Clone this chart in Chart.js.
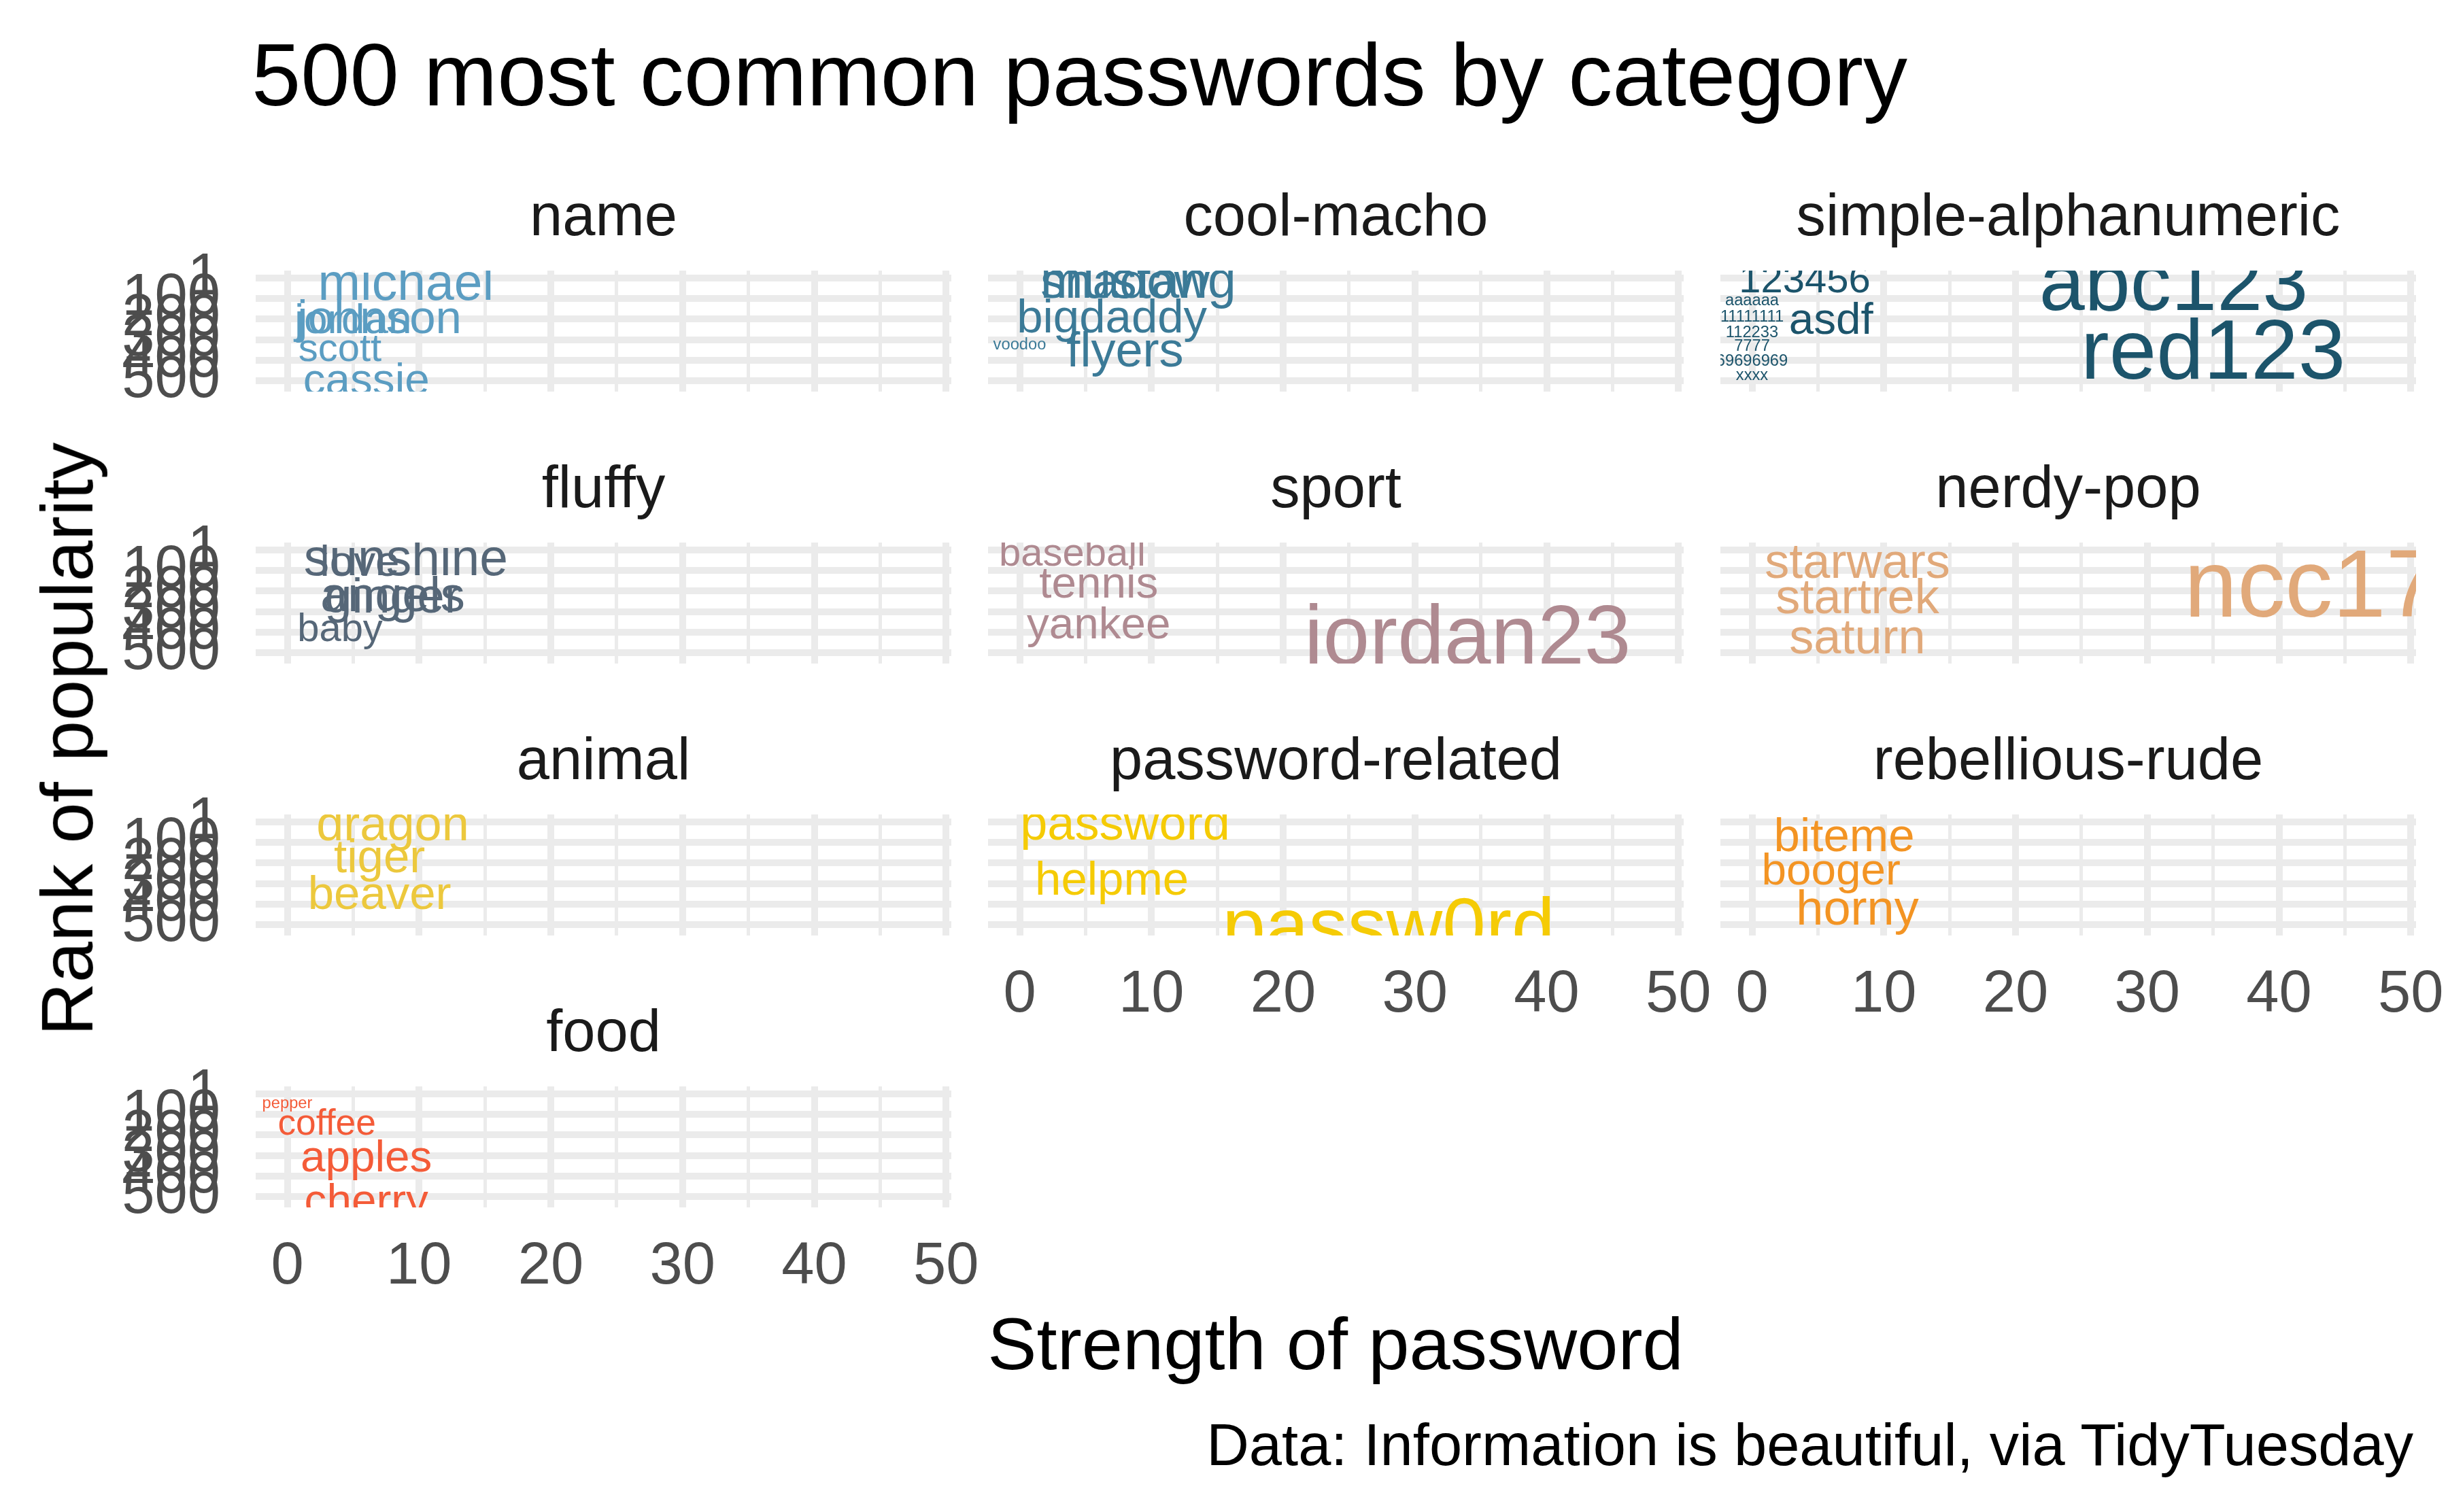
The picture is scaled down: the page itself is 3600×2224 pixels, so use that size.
<!DOCTYPE html>
<html>
<head>
<meta charset="utf-8">
<script src="https://cdn.jsdelivr.net/npm/chart.js@4.4.1/dist/chart.umd.min.js"></script>
<style>
  html, body { margin: 0; padding: 0; background: #ffffff; }
  body { width: 3600px; height: 2224px; position: relative; overflow: hidden;
         font-family: 'Liberation Sans', Arial, Helvetica, sans-serif; }
  canvas { position: absolute; }
  .txt { position: absolute; white-space: nowrap; line-height: 1; }
</style>
</head>
<body>
<script>
// ---------------- DATA ----------------
const password = [
  'michael','johnson','jordan','scott','cassie',
  'mustang','shadow','bigdaddy','flyers','voodoo',
  '123456','aaaaaa','11111111','112233','7777','69696969','xxxx','asdf','abc123','red123',
  'sunshine','love','angels','ginger','baby',
  'baseball','tennis','yankee','jordan23',
  'starwars','startrek','saturn','ncc1701',
  'dragon','tiger','beaver',
  'password','helpme','passw0rd',
  'biteme','booger','horny',
  'pepper','coffee','apples','cherry'
];
const category = [
  'name','name','name','name','name',
  'cool-macho','cool-macho','cool-macho','cool-macho','cool-macho',
  'simple-alphanumeric','simple-alphanumeric','simple-alphanumeric','simple-alphanumeric','simple-alphanumeric',
  'simple-alphanumeric','simple-alphanumeric','simple-alphanumeric','simple-alphanumeric','simple-alphanumeric',
  'fluffy','fluffy','fluffy','fluffy','fluffy',
  'sport','sport','sport','sport',
  'nerdy-pop','nerdy-pop','nerdy-pop','nerdy-pop',
  'animal','animal','animal',
  'password-related','password-related','password-related',
  'rebellious-rude','rebellious-rude','rebellious-rude',
  'food','food','food','food'
];
const strength = [
  9, 7, 5, 4, 6,
  9, 8, 7, 8, 0,
  4, 0, 0, 0, 0, 0, 0, 6, 32, 35,
  9, 5.5, 8, 8, 4,
  4, 6, 6, 34,
  8, 8, 8, 46.5,
  8, 7, 7,
  8, 7, 28,
  7, 6, 8,
  0, 3, 6, 6
];
const rank = [
  17, 186, 194, 336, 487,
  10, 12, 183, 343, 321,
  2, 106, 184, 259, 327, 397, 469, 195, 15, 340,
  36, 52, 214, 220, 374,
  9, 155, 352, 409,
  51, 223, 417, 157,
  4, 165, 342,
  1, 271, 500,
  63, 228, 412,
  42, 138, 301, 511
];
const facets = ['name','cool-macho','simple-alphanumeric','fluffy','sport','nerdy-pop',
                'animal','password-related','rebellious-rude','food'];
const xTickValues = [0, 10, 20, 30, 40, 50];
const xMinorBreaks = [5, 15, 25, 35, 45];
const yTickValues = [1, 100, 200, 300, 400, 500];
const yTickLabels = ['1', '100', '200', '300', '400', '500'];

// ---------------- STYLE / LAYOUT ----------------
const facetColors = {
  'name': '#5B9DC2', 'cool-macho': '#3B7A97', 'simple-alphanumeric': '#1C546B',
  'fluffy': '#566778', 'sport': '#AF8A91', 'nerdy-pop': '#E1A97A',
  'animal': '#ECC83D', 'password-related': '#F5CB05', 'rebellious-rude': '#F39423',
  'food': '#F45B38'
};
const FONT = "'Liberation Sans', Arial, Helvetica, sans-serif";
const GRID = '#EBEBEB';
const AXTXT = '#4D4D4D';
const PANEL_L0 = 376, COL_STEP = 1077, PANEL_W = 1023;
const PANEL_T0 = 398, ROW_STEP = 400, PANEL_H = 178;
const AX_L = 330, PAD_T = 70, AX_B = 160, PAD_R = 80;
const X_MIN = -2.4, X_MAX = 50.4, Y_MIN = -34, Y_MAX = 551.5;
const TICK_FS = 86.7;
// ggplot-like size scale: strength 0..48 -> 1..6 mm (area), 1 mm = 23.71 px
const S_MAX = 48, MM = 23.71;
const sizeScale = s => MM * (1 + 5 * Math.sqrt(Math.max(0, s) / S_MAX));

Chart.defaults.font.family = FONT;

const wordPlugin = {
  id: 'wordLabels',
  afterDatasetsDraw(chart) {
    const { ctx, chartArea: a, scales } = chart;
    const ds = chart.data.datasets[0];
    ctx.save();
    ctx.beginPath();
    ctx.rect(a.left, a.top, a.right - a.left, a.bottom - a.top);
    ctx.clip();
    ctx.fillStyle = ds.textColor;
    ctx.textAlign = 'center';
    ctx.textBaseline = 'alphabetic';
    ds.data.forEach(p => {
      const fs = sizeScale(p.x);
      ctx.font = fs.toFixed(2) + 'px ' + FONT;
      ctx.fillText(p.label, scales.x.getPixelForValue(p.x), scales.y.getPixelForValue(p.y) + 0.36 * fs);
    });
    ctx.restore();
  }
};

function addText(text, style) {
  const d = document.createElement('div');
  d.className = 'txt';
  d.textContent = text;
  Object.assign(d.style, style);
  document.body.appendChild(d);
  return d;
}

const allX = xTickValues.concat(xMinorBreaks).sort((a, b) => a - b);

facets.forEach((f, i) => {
  const r = Math.floor(i / 3), c = i % 3;
  const pl = PANEL_L0 + c * COL_STEP, pt = PANEL_T0 + r * ROW_STEP;
  const showY = c === 0;
  const showX = (r === 3) || (r === 2 && c > 0);

  const pts = [];
  password.forEach((w, k) => {
    if (category[k] === f) pts.push({ x: strength[k], y: rank[k], label: w });
  });

  const cv = document.createElement('canvas');
  const W = AX_L + PANEL_W + PAD_R, H = PAD_T + PANEL_H + AX_B;
  cv.width = W; cv.height = H;
  cv.style.width = W + 'px'; cv.style.height = H + 'px';
  cv.style.left = (pl - AX_L) + 'px';
  cv.style.top = (pt - PAD_T) + 'px';
  document.body.appendChild(cv);

  const zeroPad = s => { s.paddingLeft = 0; s.paddingRight = 0; s.paddingTop = 0; s.paddingBottom = 0; };

  new Chart(cv, {
    type: 'scatter',
    data: { datasets: [{ data: pts, pointRadius: 0, pointHoverRadius: 0, textColor: facetColors[f] }] },
    options: {
      responsive: false, animation: false, devicePixelRatio: 1, events: [],
      layout: { padding: { left: 0, right: PAD_R, top: PAD_T, bottom: 0 } },
      plugins: { legend: { display: false }, tooltip: { enabled: false }, title: { display: false } },
      scales: {
        x: {
          type: 'linear', position: 'bottom', min: X_MIN, max: X_MAX,
          afterBuildTicks: s => { s.ticks = allX.map(v => ({ value: v })); },
          afterFit: s => { s.height = AX_B; zeroPad(s); },
          grid: { color: GRID, drawTicks: false,
                  lineWidth: ctx => (ctx.tick && xTickValues.includes(ctx.tick.value)) ? 10 : 5 },
          border: { display: false },
          ticks: { autoSkip: false, maxRotation: 0, minRotation: 0, padding: 36,
                   color: showX ? AXTXT : 'rgba(0,0,0,0)',
                   font: { size: TICK_FS },
                   callback: v => { const k = xTickValues.indexOf(v); return k >= 0 ? String(xTickValues[k]) : ''; } }
        },
        y: {
          type: 'linear', position: 'left', reverse: true, min: Y_MIN, max: Y_MAX,
          afterBuildTicks: s => { s.ticks = yTickValues.map(v => ({ value: v })); },
          afterFit: s => { s.width = AX_L; zeroPad(s); },
          grid: { color: GRID, drawTicks: false, lineWidth: 10 },
          border: { display: false },
          ticks: { autoSkip: false, padding: 52,
                   color: showY ? AXTXT : 'rgba(0,0,0,0)',
                   font: { size: TICK_FS },
                   callback: v => { const k = yTickValues.indexOf(v); return k >= 0 ? yTickLabels[k] : ''; } }
        }
      }
    },
    plugins: [wordPlugin]
  });

  // strip label
  addText(f, { left: pl + 'px', top: (pt - 125) + 'px', width: PANEL_W + 'px', textAlign: 'center',
               fontSize: '86.7px', color: '#1A1A1A' });
});

// titles
addText('500 most common passwords by category',
        { left: '370px', top: '45px', fontSize: '130px', color: '#000000' });
addText('Strength of password',
        { left: '1964px', top: '1923px', fontSize: '108.3px', color: '#000000', transform: 'translateX(-50%)' });
addText('Rank of popularity',
        { left: (98.5 - 1000) + 'px', top: (1087.5 - 54.15) + 'px', width: '2000px', textAlign: 'center',
          fontSize: '108.3px', lineHeight: '108.3px', color: '#000000', transform: 'rotate(-90deg)' });
addText('Data: Information is beautiful, via TidyTuesday',
        { right: '51px', top: '2082px', fontSize: '86.7px', color: '#000000' });
</script>
</body>
</html>
